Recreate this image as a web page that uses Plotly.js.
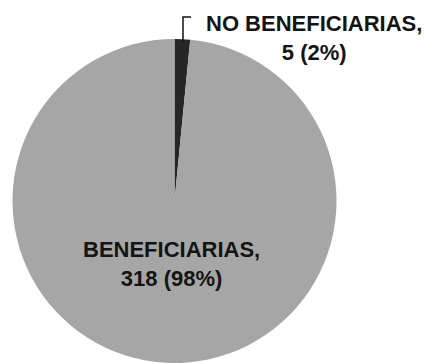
<!DOCTYPE html>
<html>
<head>
<meta charset="utf-8">
<script src="https://cdn.plot.ly/plotly-3.0.1.min.js"></script>
<style>html,body{margin:0;padding:0;background:#fff;}#chart{width:427px;height:363px;}</style>
</head>
<body>
<div id="chart"></div>
<script>
const categories = ["NO BENEFICIARIAS", "BENEFICIARIAS"];
const counts = [5, 318];
const sliceColors = ["#262626", "#A6A6A6"];

const W = 427, H = 363;
const total = counts.reduce((a, b) => a + b, 0);
const labelTexts = categories.map((c, i) =>
  "<b>" + c + ",<br>" + counts[i] + " (" + Math.round(counts[i] / total * 100) + "%)</b>");

const cx = 174.5, cy = 201, r = 162;
const trace = {
  type: "pie",
  labels: categories,
  values: counts,
  sort: false,
  direction: "clockwise",
  rotation: 0,
  marker: { colors: sliceColors, line: { width: 0 } },
  textinfo: "none",
  hoverinfo: "none",
  showlegend: false,
  domain: { x: [(cx - r) / W, (cx + r) / W], y: [(H - cy - r) / H, (H - cy + r) / H] }
};

function px(x) { return x / W; }
function py(y) { return 1 - y / H; }

const layout = {
  width: W, height: H,
  margin: { l: 0, r: 0, t: 0, b: 0 },
  paper_bgcolor: "#fff",
  font: { family: "Liberation Sans, Arial, sans-serif", color: "#141414" },
  shapes: [{
    type: "path", xref: "paper", yref: "paper",
    path: "M " + px(183) + "," + py(41) + " L " + px(183) + "," + py(17) + " L " + px(191) + "," + py(17),
    line: { color: "#111", width: 1.5 }
  }],
  annotations: [
    { text: labelTexts[0], xref: "paper", yref: "paper", x: px(314), y: py(38),
      xanchor: "center", yanchor: "middle", showarrow: false, align: "center",
      font: { size: 22, family: "Liberation Sans, Arial, sans-serif", color: "#141414" } },
    { text: labelTexts[1], xref: "paper", yref: "paper", x: px(171), y: py(263.5),
      xanchor: "center", yanchor: "middle", showarrow: false, align: "center",
      font: { size: 22, family: "Liberation Sans, Arial, sans-serif", color: "#141414" } }
  ]
};

Plotly.newPlot("chart", [trace], layout, { staticPlot: true, displayModeBar: false });
</script>
</body>
</html>
